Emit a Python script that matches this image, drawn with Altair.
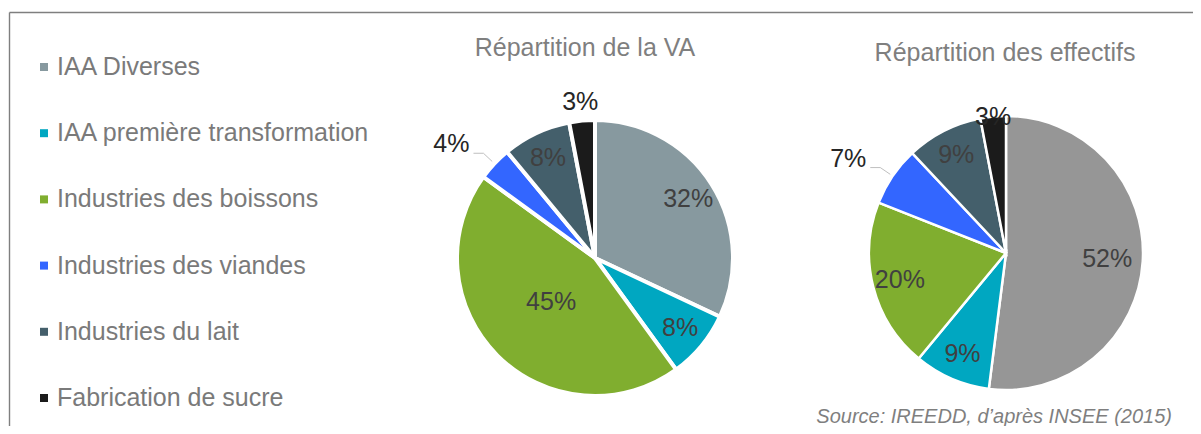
import altair as alt
import pandas as pd

categories = ["IAA Diverses", "IAA première transformation", "Industries des boissons",
              "Industries des viandes", "Industries du lait", "Fabrication de sucre"]
va_values = [32, 8, 45, 4, 8, 3]
eff_values = [52, 9, 20, 7, 9, 3]
va_colors = ["#87999f", "#00a7c1", "#80ae2f", "#3366ff", "#445f6b", "#1b1b1b"]
eff_colors = ["#969696", "#00a7c1", "#80ae2f", "#3366ff", "#445f6b", "#1b1b1b"]
titles = ["Répartition de la VA", "Répartition des effectifs"]
source_text = "Source: IREEDD, d’après INSEE (2015)"

FONT = "Liberation Sans"
W, H = 1185, 418


def table(values):
    return pd.DataFrame({"cat": categories, "v": values, "idx": list(range(len(values)))})


def pie(values, colors, cx, cy, R, sw, last_off, title, tx, ty):
    df = table(values)
    n = len(values) - 1
    base = alt.Chart(df)
    arc = base.mark_arc(radius=R, stroke="white", strokeWidth=sw).encode(
        theta=alt.Theta("v:Q", stack=True),
        color=alt.Color("cat:N", scale=alt.Scale(domain=categories, range=colors), legend=None),
        order=alt.Order("idx:Q"),
        x=alt.value(cx), y=alt.value(cy),
    )
    geo = base.transform_window(
        cum="sum(v)", sort=[alt.SortField("idx")], frame=[None, 0]
    ).transform_joinaggregate(tot="sum(v)").transform_calculate(
        a="2*PI*(datum.cum - datum.v/2)/datum.tot",
        last=f"datum.idx == {n}",
        lead=f"datum.v < 8 && datum.idx != {n}",
    ).transform_calculate(
        r=f"datum.last ? {R + last_off} : (datum.v >= 50 ? {0.74 * R} : (datum.v >= 40 ? {0.45 * R} : {0.8 * R}))",
        ax=f"{cx} + {R + 3}*sin(datum.a)",
        ay=f"{cy} - {R + 3}*cos(datum.a)",
        bx=f"{cx} + {R + 15}*sin(datum.a)",
        by=f"{cy} - {R + 15}*cos(datum.a)",
    ).transform_calculate(
        lx="datum.lead ? datum.bx - 14 : " + f"{cx} + datum.r*sin(datum.a)",
        ly="datum.lead ? datum.by - 9 : " + f"{cy} - datum.r*cos(datum.a)",
        cxx="datum.bx - 10",
        lab="datum.v + '%'",
    )
    inner = geo.transform_filter("!datum.lead").mark_text(
        font=FONT, fontSize=25, baseline="middle", align="center"
    ).encode(
        x=alt.X("lx:Q", scale=None, axis=None),
        y=alt.Y("ly:Q", scale=None, axis=None),
        text="lab:N",
        color=alt.Color("last:N", scale=alt.Scale(domain=[False, True], range=["#404040", "#262626"]), legend=None),
    )
    outer = geo.transform_filter("datum.lead").mark_text(
        font=FONT, fontSize=25, baseline="middle", align="right", color="#262626"
    ).encode(
        x=alt.X("lx:Q", scale=None, axis=None),
        y=alt.Y("ly:Q", scale=None, axis=None),
        text="lab:N",
    )
    lead1 = geo.transform_filter("datum.lead").mark_rule(color="#bfbfbf", strokeWidth=1).encode(
        x=alt.X("ax:Q", scale=None, axis=None), y=alt.Y("ay:Q", scale=None, axis=None),
        x2="bx:Q", y2="by:Q",
    )
    lead2 = geo.transform_filter("datum.lead").mark_rule(color="#bfbfbf", strokeWidth=1).encode(
        x=alt.X("bx:Q", scale=None, axis=None), y=alt.Y("by:Q", scale=None, axis=None),
        x2="cxx:Q", y2="by:Q",
    )
    ttl = alt.Chart(pd.DataFrame({"t": [title]})).mark_text(
        font=FONT, fontSize=25, color="#7f7f7f", align="center", baseline="middle"
    ).encode(text="t:N", x=alt.value(tx), y=alt.value(ty))
    return [arc, lead1, lead2, inner, outer, ttl]


leg = alt.Chart(pd.DataFrame({"cat": categories}))
leg_y = alt.Y("cat:N", scale=alt.Scale(domain=categories, range=[59, 390], padding=0), axis=None)
leg_sq = leg.mark_square(size=64, opacity=1).encode(
    x=alt.value(36), y=leg_y,
    color=alt.Color("cat:N", scale=alt.Scale(domain=categories, range=va_colors), legend=None),
)
leg_tx = leg.mark_text(font=FONT, fontSize=25, color="#7a7a7a", align="left", baseline="middle").encode(
    x=alt.value(49), y=leg_y, text="cat:N"
)

one = alt.Chart(pd.DataFrame({"d": [0]}))
frame_top = one.mark_rule(color="#7f7f7f", strokeWidth=1.4).encode(
    x=alt.value(1.5), x2=alt.value(W + 8), y=alt.value(4.5))
frame_left = one.mark_rule(color="#7f7f7f", strokeWidth=1.4).encode(
    x=alt.value(1.5), y=alt.value(4.5), y2=alt.value(H + 8))
src = alt.Chart(pd.DataFrame({"t": [source_text]})).mark_text(
    font=FONT, fontSize=20, fontStyle="italic", color="#7f7f7f", align="right", baseline="middle"
).encode(text="t:N", x=alt.value(1164), y=alt.value(409))

layers = [frame_top, frame_left, leg_sq, leg_tx]
layers += pie(va_values, va_colors, 587, 250, 138, 4, 19, titles[0], 577, 40)
layers += pie(eff_values, eff_colors, 998, 245, 137, 2.5, 0, titles[1], 997, 45)
layers.append(src)

chart = alt.layer(*layers).resolve_scale(
    theta="independent", color="independent", x="independent", y="independent"
).properties(
    width=W, height=H, padding=0, autosize=alt.AutoSizeParams(type="none")
).configure_view(stroke=None)

chart.save("out.html", embed_options={"renderer": "svg", "actions": False})
